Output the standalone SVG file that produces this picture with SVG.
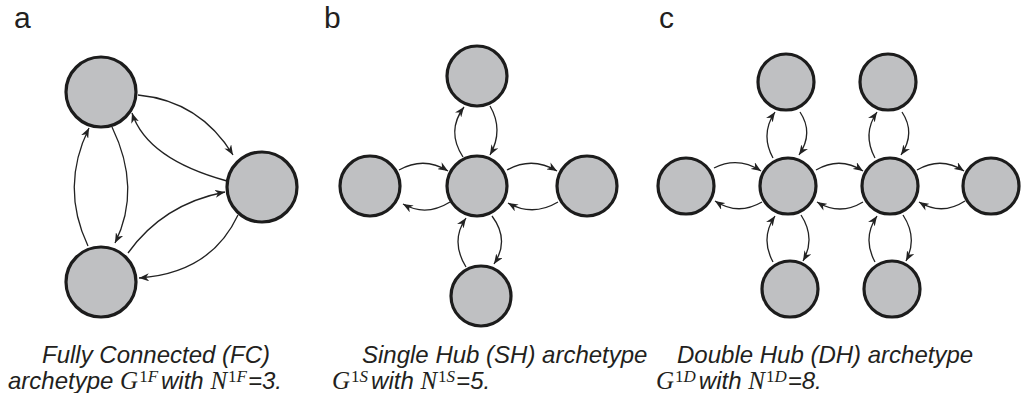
<svg xmlns="http://www.w3.org/2000/svg" width="1025" height="393" viewBox="0 0 1025 393">
  <style>
    .node { fill: #bfc0c2; stroke: #1c1c1c; stroke-width: 3.2; }
    .edge { fill: none; stroke: #222; stroke-width: 1.3; marker-end: url(#ah); }
    .panel { font-family: "Liberation Sans", Arial, sans-serif; font-size: 30px; fill: #231f20; }
    .cap { font-family: "Liberation Sans", Arial, sans-serif; font-style: italic; font-size: 24px; fill: #231f20; }
    .m { font-family: "Liberation Serif", "Times New Roman", serif; font-style: italic; font-size: 25px; }
    .ms { font-family: "Liberation Serif", "Times New Roman", serif; font-style: normal; font-size: 17px; }
    .msi { font-family: "Liberation Serif", "Times New Roman", serif; font-style: italic; font-size: 17px; }
  </style>
  <defs>
    <marker id="ah" viewBox="0 0 10 8" refX="10" refY="4" markerWidth="10" markerHeight="8" markerUnits="userSpaceOnUse" orient="auto">
      <path d="M0,0 L10,4 L0,8 L3,4 z" fill="#222"/>
    </marker>
  </defs>
  <rect width="1025" height="393" fill="#fff"/>

  <!-- panel letters -->
  <text class="panel" x="14" y="28">a</text>
  <text class="panel" x="324" y="28">b</text>
  <text class="panel" x="659" y="28">c</text>

  <!-- connectors -->
  <g id="connectors">
    <!-- a: fully connected -->
    <path class="edge" d="M138,95 Q200,101 233,155"/>
    <path class="edge" d="M227,181 Q147,159 132,113"/>
    <path class="edge" d="M112,127 Q142,189 115,243"/>
    <path class="edge" d="M88,246 Q60,187 89,128"/>
    <path class="edge" d="M128,253 Q163,204 225,192"/>
    <path class="edge" d="M238,215 Q211,273 139,278"/>
    <!-- b: single hub -->
    <path class="edge" d="M463,157 Q446,131 464,107"/>
    <path class="edge" d="M490,106 Q504,130 490,155"/>
    <path class="edge" d="M399,170 Q424,156 448,171"/>
    <path class="edge" d="M450,202 Q426,217 403,204"/>
    <path class="edge" d="M507,170 Q532,156 557,171"/>
    <path class="edge" d="M558,202 Q533,217 508,203"/>
    <path class="edge" d="M466,267 Q450,241 466,218"/>
    <path class="edge" d="M492,216 Q510,240 494,264"/>
    <!-- c: double hub -->
    <path class="edge" d="M714,168 Q738,156 761,171"/>
    <path class="edge" d="M762,202 Q738,216 715,201"/>
    <path class="edge" d="M816,170 Q840,156 863,171"/>
    <path class="edge" d="M863,202 Q840,216 817,202"/>
    <path class="edge" d="M917,170 Q941,156 964,171"/>
    <path class="edge" d="M965,201 Q942,216 919,202"/>
    <path class="edge" d="M773,158 Q760,134 775,112"/>
    <path class="edge" d="M800,112 Q814,133 799,155"/>
    <path class="edge" d="M875,158 Q862,134 877,112"/>
    <path class="edge" d="M902,112 Q916,133 901,155"/>
    <path class="edge" d="M773,262 Q760,238 775,216"/>
    <path class="edge" d="M801,215 Q816,238 803,261"/>
    <path class="edge" d="M875,262 Q862,238 877,216"/>
    <path class="edge" d="M903,215 Q918,238 906,261"/>
  </g>

  <!-- a nodes -->
  <g id="a-n1"><circle class="node" cx="101" cy="92" r="35"/></g>
  <g id="a-n2"><circle class="node" cx="262" cy="187" r="35"/></g>
  <g id="a-n3"><circle class="node" cx="101" cy="282" r="35"/></g>

  <!-- b nodes -->
  <g id="b-hub"><circle class="node" cx="477" cy="186" r="30"/></g>
  <g id="b-top"><circle class="node" cx="477" cy="76" r="30"/></g>
  <g id="b-left"><circle class="node" cx="370" cy="186" r="30"/></g>
  <g id="b-right"><circle class="node" cx="587" cy="186" r="30"/></g>
  <g id="b-bottom"><circle class="node" cx="481" cy="296" r="30"/></g>

  <!-- c nodes -->
  <g id="c-hub1"><circle class="node" cx="788" cy="186" r="28"/></g>
  <g id="c-hub2"><circle class="node" cx="890" cy="186" r="28"/></g>
  <g id="c-left"><circle class="node" cx="686" cy="186" r="28"/></g>
  <g id="c-right"><circle class="node" cx="991" cy="186" r="28"/></g>
  <g id="c-top1"><circle class="node" cx="786" cy="82" r="28"/></g>
  <g id="c-top2"><circle class="node" cx="888" cy="82" r="28"/></g>
  <g id="c-bottom1"><circle class="node" cx="790" cy="289" r="28"/></g>
  <g id="c-bottom2"><circle class="node" cx="892" cy="289" r="28"/></g>

  <!-- captions -->
  <g id="captions">
    <text class="cap" x="42" y="363">Fully Connected (FC)</text>
    <text class="cap" x="8" y="389">archetype <tspan class="m">G</tspan><tspan class="ms" y="382" dx="1">1</tspan><tspan class="msi" y="382">F</tspan><tspan y="389" dx="3">with </tspan><tspan class="m">N</tspan><tspan class="ms" y="382" dx="1">1</tspan><tspan class="msi" y="382">F</tspan><tspan y="389" dx="1">=3.</tspan></text>

    <text class="cap" x="362" y="363">Single Hub (SH) archetype</text>
    <text class="cap" x="332" y="389"><tspan class="m">G</tspan><tspan class="ms" y="382" dx="1">1</tspan><tspan class="msi" y="382">S</tspan><tspan y="389" dx="3">with </tspan><tspan class="m">N</tspan><tspan class="ms" y="382" dx="1">1</tspan><tspan class="msi" y="382">S</tspan><tspan y="389" dx="1">=5.</tspan></text>

    <text class="cap" x="677" y="363">Double Hub (DH) archetype</text>
    <text class="cap" x="656" y="389"><tspan class="m">G</tspan><tspan class="ms" y="382" dx="1">1</tspan><tspan class="msi" y="382">D</tspan><tspan y="389" dx="3">with </tspan><tspan class="m">N</tspan><tspan class="ms" y="382" dx="1">1</tspan><tspan class="msi" y="382">D</tspan><tspan y="389" dx="1">=8.</tspan></text>
  </g>
</svg>
